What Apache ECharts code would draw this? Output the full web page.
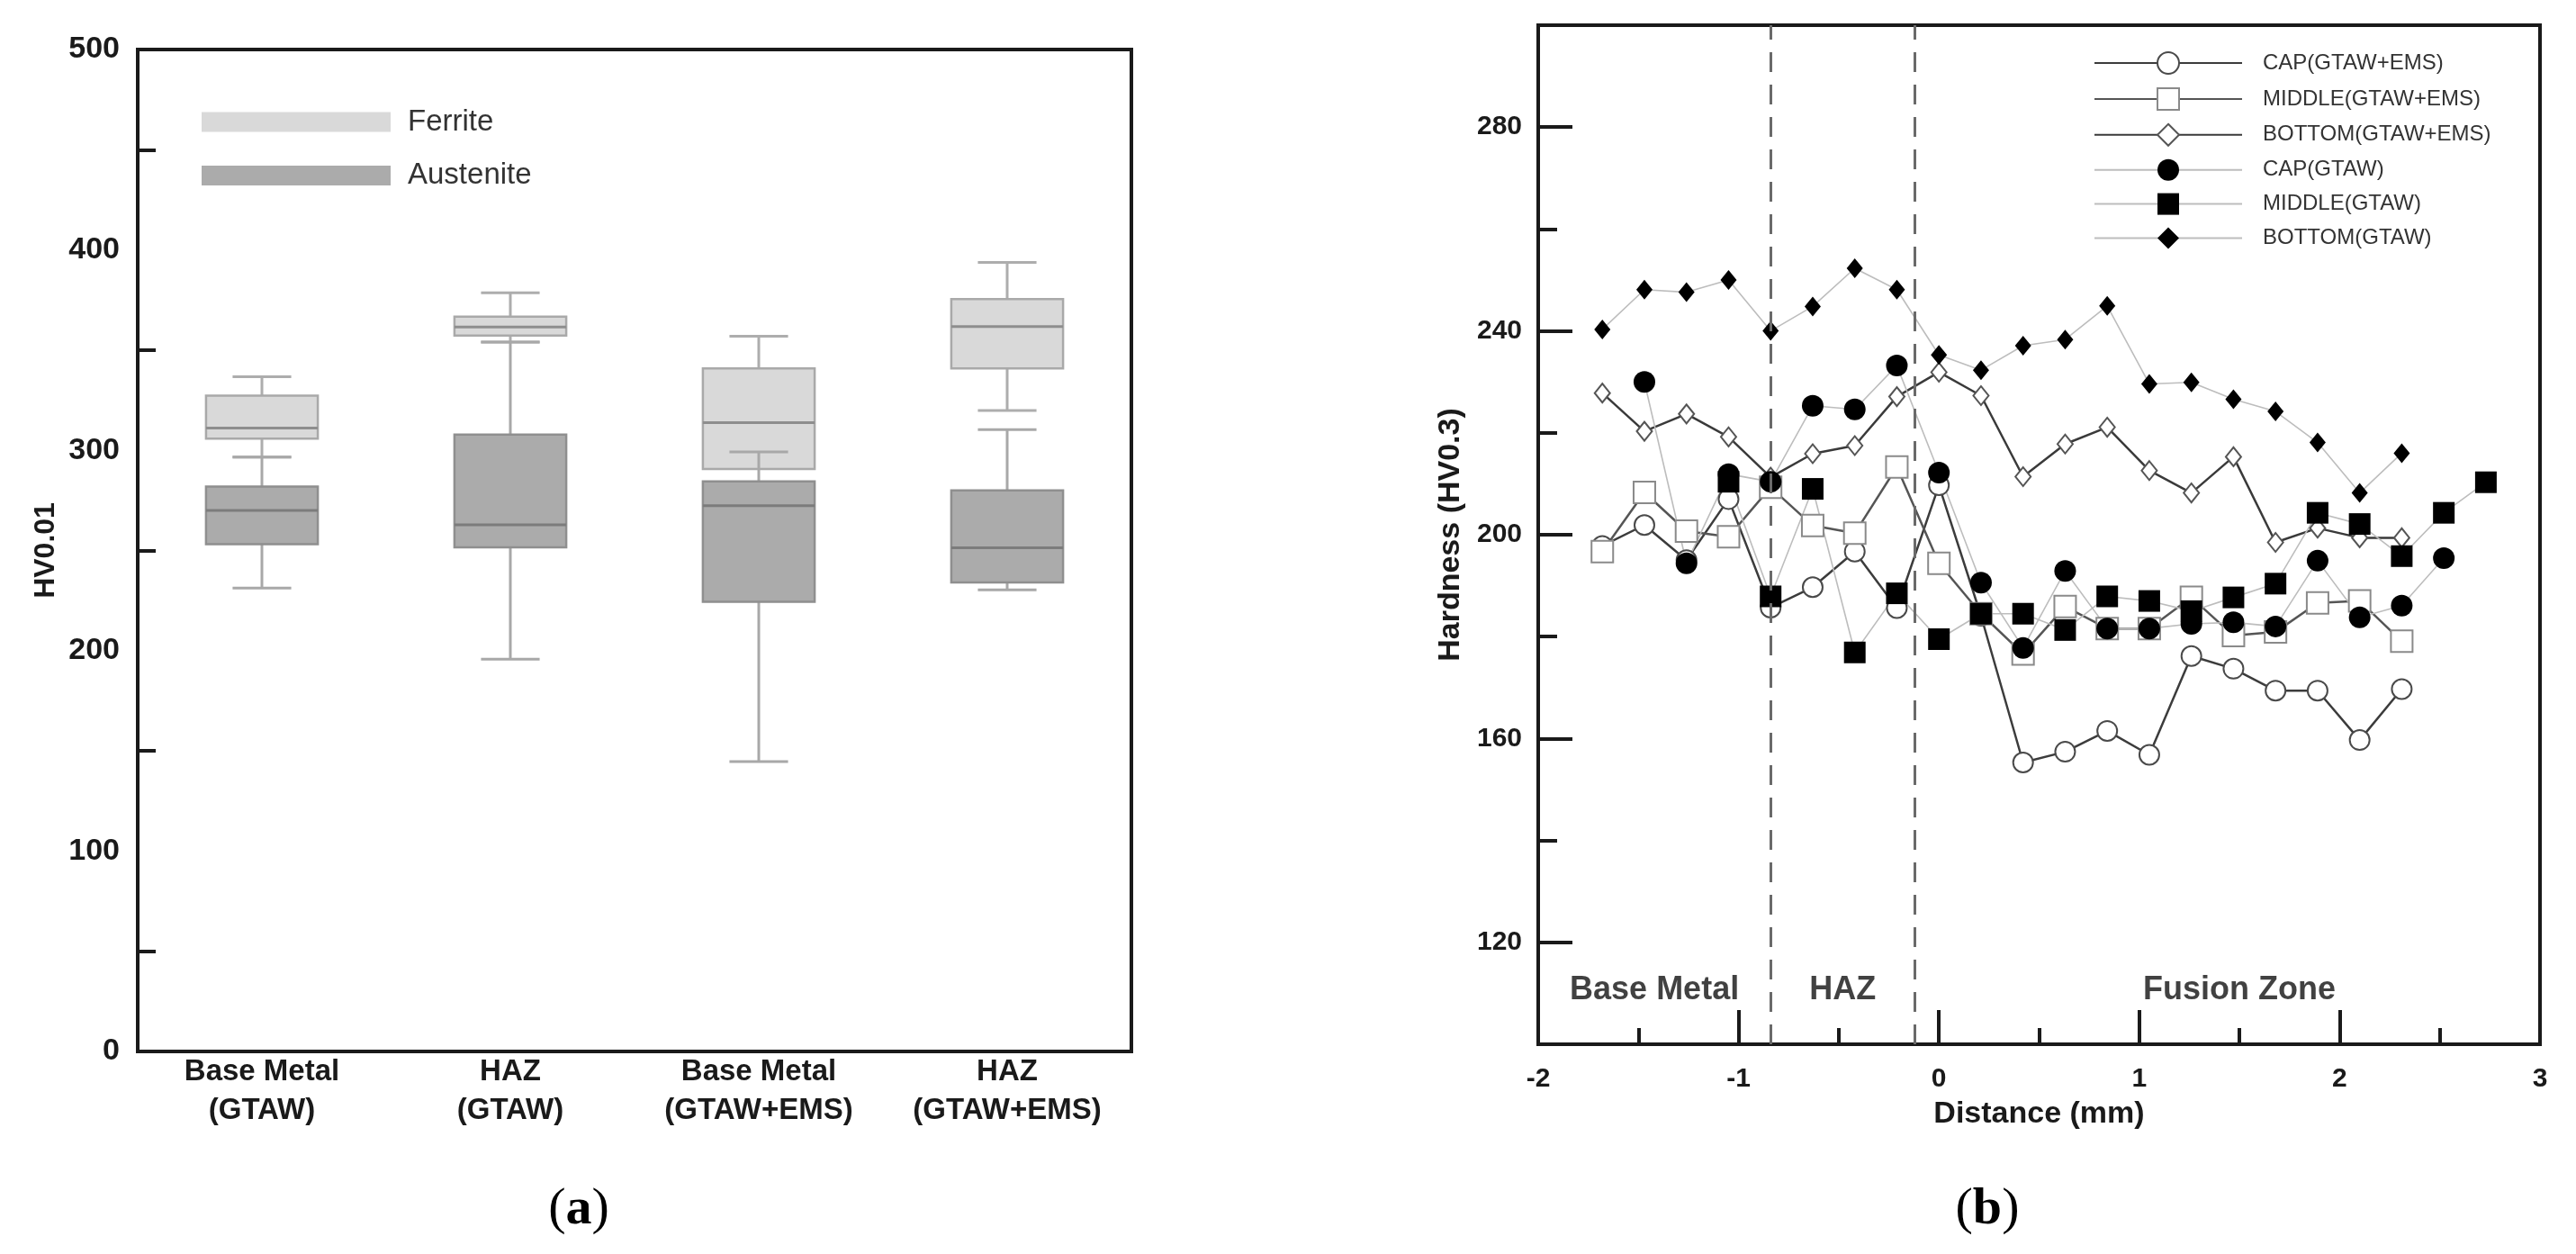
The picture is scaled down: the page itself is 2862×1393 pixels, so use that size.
<!DOCTYPE html>
<html>
<head>
<meta charset="utf-8">
<script src="https://cdn.jsdelivr.net/npm/echarts@6/dist/echarts.min.js"></script>
<style>
  html, body { margin: 0; padding: 0; background: #fff; }
  #main { width: 2862px; height: 1393px; }
</style>
</head>
<body>
<div id="main"></div>
<script>
// (a) box plots, stats are [min, Q1, median, Q3, max]
const categories = ["Base Metal\n(GTAW)", "HAZ\n(GTAW)", "Base Metal\n(GTAW+EMS)", "HAZ\n(GTAW+EMS)"];
const ferriteStats = [
  [296.6, 305.8, 311.1, 327.3, 336.7],
  [354.0, 357.3, 361.5, 366.7, 378.6],
  [290.6, 290.6, 313.8, 340.9, 356.9],
  [319.9, 340.9, 361.8, 375.4, 393.8],
];
const austeniteStats = [
  [231.3, 253.1, 270.0, 281.9, 296.6],
  [195.8, 251.6, 262.8, 307.8, 354.0],
  [144.7, 224.4, 272.4, 284.5, 299.2],
  [230.4, 234.1, 251.4, 280.0, 310.3],
];

// (b) hardness profiles
const distance = [-1.68, -1.47, -1.26, -1.05, -0.84, -0.63, -0.42, -0.21, 0, 0.21, 0.42,
  0.63, 0.84, 1.05, 1.26, 1.47, 1.68, 1.89, 2.1, 2.31, 2.52, 2.73];
const capEms = [197.8, 201.9, 195.0, 207.0, 185.7, 189.7, 196.7, 185.6, 209.7, 184.1, 155.3,
  157.4, 161.5, 156.8, 176.2, 173.7, 169.4, 169.4, 159.7, 169.7, null, null];
const middleEms = [196.7, 208.3, 200.7, 199.6, 209.3, 201.8, 200.3, 213.3, 194.4, 184.5, 176.6,
  185.9, 181.6, 181.6, 187.7, 180.2, 180.9, 186.6, 187.0, 179.1, null, null];
const bottomEms = [227.8, 220.3, 223.7, 219.2, 211.3, 215.9, 217.5, 227.1, 231.9, 227.3, 211.4,
  217.8, 221.1, 212.6, 208.2, 215.3, 198.5, 201.3, 199.4, 199.4, null, null];
const capGtaw = [null, 230.0, 194.4, 211.9, 210.4, 225.3, 224.6, 233.2, 212.2, 190.6, 177.8,
  192.9, 181.6, 181.6, 182.5, 182.8, 182.0, 194.9, 183.8, 186.1, 195.4, null];
const middleGtaw = [null, null, null, 210.4, 187.9, 209.0, 176.9, 188.5, 179.5, 184.5, 184.5,
  181.3, 187.9, 187.0, 185.0, 187.7, 190.4, 204.3, 202.1, 195.8, 204.3, 210.3];
const bottomGtaw = [240.3, 248.1, 247.6, 250.0, 240.0, 244.8, 252.3, 248.1, 235.3, 232.3, 237.1,
  238.3, 244.9, 229.6, 229.9, 226.6, 224.2, 218.1, 208.2, 216.0, null, null];

const zoneNames = ["Base Metal", "HAZ", "Fusion Zone"];
const zoneCenters = [-1.42, -0.48, 1.5];
const zoneLabelY = 110.6;
const zoneBounds = [-0.84, -0.12];
const yLabelValues = [120, 160, 200, 240, 280];
const yMinorValues = [140, 180, 220, 260];

const sans = "'Liberation Sans', Arial, sans-serif";
const serif = "'Liberation Serif', 'Times New Roman', serif";

function toPairs(ys) {
  var out = [];
  for (var i = 0; i < ys.length; i++) {
    if (ys[i] != null) out.push([distance[i], ys[i]]);
  }
  return out;
}

function boxData(stats) {
  return stats.map(function (s, i) { return [i].concat(s); });
}

function makeBox(look) {
  return function (params, api) {
    var idx = api.value(0);
    var band = api.size([1, 0])[0];
    var half = band * 0.225, capHalf = band * 0.118;
    var pt = function (d) { return api.coord([idx, api.value(d)]); };
    var pMin = pt(1), pQ1 = pt(2), pMed = pt(3), pQ3 = pt(4), pMax = pt(5);
    var cx = pMed[0];
    var wStyle = { stroke: look.whisker, lineWidth: 3 };
    var kids = [];
    if (pQ3[1] - pMax[1] > 1) {
      kids.push({ type: "line", shape: { x1: cx, y1: pQ3[1], x2: cx, y2: pMax[1] }, style: wStyle });
      kids.push({ type: "line", shape: { x1: cx - capHalf, y1: pMax[1], x2: cx + capHalf, y2: pMax[1] }, style: wStyle });
    }
    if (pMin[1] - pQ1[1] > 1) {
      kids.push({ type: "line", shape: { x1: cx, y1: pQ1[1], x2: cx, y2: pMin[1] }, style: wStyle });
      kids.push({ type: "line", shape: { x1: cx - capHalf, y1: pMin[1], x2: cx + capHalf, y2: pMin[1] }, style: wStyle });
    }
    kids.push({
      type: "rect",
      shape: { x: cx - half, y: pQ3[1], width: half * 2, height: pQ1[1] - pQ3[1] },
      style: { fill: look.fill, stroke: look.border, lineWidth: 2.5 },
    });
    kids.push({
      type: "line",
      shape: { x1: cx - half, y1: pMed[1], x2: cx + half, y2: pMed[1] },
      style: { stroke: look.median, lineWidth: 3 },
    });
    return { type: "group", children: kids };
  };
}

const ferriteLook = { fill: "#d9d9d9", border: "#a9a9a9", median: "#8e8e8e", whisker: "#adadad" };
const austeniteLook = { fill: "#ababab", border: "#8f8f8f", median: "#7c7c7c", whisker: "#a8a8a8" };

const tickStyle = { color: "#1a1a1a", width: 4 };
const axisLineStyle = { onZero: false, lineStyle: { color: "#1a1a1a", width: 4 } };

function figLabel(letter, x) {
  return {
    type: "text",
    x: x,
    y: 1344,
    style: {
      text: "{p|(}{b|" + letter + "}{p|)}",
      textAlign: "center",
      textVerticalAlign: "middle",
      rich: {
        p: { fontFamily: serif, fontSize: 58, fill: "#000" },
        b: { fontFamily: serif, fontSize: 58, fontWeight: "bold", fill: "#000" },
      },
    },
  };
}

function lineSeries(name, ys, symbol, size, lineColor, lineWidth, symColor) {
  return {
    name: name,
    type: "line",
    xAxisIndex: 1,
    yAxisIndex: 1,
    symbol: symbol,
    symbolSize: size,
    showAllSymbol: true,
    lineStyle: { color: lineColor, width: lineWidth },
    itemStyle: { color: symColor, borderWidth: 1.6 },
    data: toPairs(ys),
  };
}

const myChart = echarts.init(document.getElementById("main"));
var option = {
  animation: false,
  backgroundColor: "#fff",
  grid: [
    { left: 153, top: 55, width: 1104, height: 1113, show: true, borderColor: "#1a1a1a", borderWidth: 4 },
    { left: 1709, top: 28, width: 1113, height: 1132, show: true, borderColor: "#1a1a1a", borderWidth: 4 },
  ],
  legend: [
    {
      data: ["Ferrite", "Austenite"],
      orient: "vertical",
      left: 219,
      top: 114,
      itemWidth: 210,
      itemHeight: 22,
      itemGap: 26.5,
      icon: "rect",
      textStyle: { fontFamily: sans, fontSize: 33, color: "#333", padding: [0, 0, 0, 14] },
    },
    {
      data: ["CAP(GTAW+EMS)", "MIDDLE(GTAW+EMS)", "BOTTOM(GTAW+EMS)", "CAP(GTAW)", "MIDDLE(GTAW)", "BOTTOM(GTAW)"],
      orient: "vertical",
      left: 2321,
      top: 52,
      itemWidth: 164,
      itemHeight: 30,
      itemGap: 13.9,
      textStyle: { fontFamily: sans, fontSize: 24, color: "#333", padding: [0, 0, 0, 18] },
    },
  ],
  xAxis: [
    {
      type: "category",
      gridIndex: 0,
      data: categories,
      boundaryGap: true,
      axisLine: axisLineStyle,
      axisTick: { interval: 0, alignWithLabel: true, inside: true, length: 37, lineStyle: tickStyle },
      axisLabel: { interval: 0, fontFamily: sans, fontWeight: "bold", fontSize: 33, lineHeight: 43, color: "#1a1a1a", margin: 1 },
      splitLine: { show: false },
    },
    {
      type: "value",
      gridIndex: 1,
      min: -2,
      max: 3,
      interval: 1,
      name: "Distance (mm)",
      nameLocation: "middle",
      nameGap: 61,
      nameTextStyle: { fontFamily: sans, fontWeight: "bold", fontSize: 34, color: "#1a1a1a" },
      axisLine: axisLineStyle,
      axisTick: { inside: true, length: 38, lineStyle: tickStyle },
      minorTick: { show: true, splitNumber: 2, length: 18, lineStyle: tickStyle },
      axisLabel: { fontFamily: sans, fontWeight: "bold", fontSize: 30, color: "#1a1a1a", margin: 24 },
      splitLine: { show: false },
    },
  ],
  yAxis: [
    {
      type: "value",
      gridIndex: 0,
      min: 0,
      max: 500,
      interval: 100,
      name: "HV0.01",
      nameLocation: "middle",
      nameGap: 86,
      nameTextStyle: { fontFamily: sans, fontWeight: "bold", fontSize: 32, color: "#1a1a1a" },
      axisLine: axisLineStyle,
      axisTick: { inside: true, length: 39, lineStyle: tickStyle },
      minorTick: { show: true, splitNumber: 2, length: 20, lineStyle: tickStyle },
      axisLabel: { fontFamily: sans, fontWeight: "bold", fontSize: 34, color: "#1a1a1a", margin: 20 },
      splitLine: { show: false },
    },
    {
      type: "value",
      gridIndex: 1,
      position: "left",
      min: 100,
      max: 300,
      name: "Hardness (HV0.3)",
      nameLocation: "middle",
      nameGap: 80,
      nameTextStyle: { fontFamily: sans, fontWeight: "bold", fontSize: 34, color: "#1a1a1a" },
      axisLine: axisLineStyle,
      axisTick: { inside: true, length: 38, lineStyle: tickStyle, customValues: yLabelValues },
      axisLabel: { fontFamily: sans, fontWeight: "bold", fontSize: 30, color: "#1a1a1a", margin: 18, customValues: yLabelValues },
      splitLine: { show: false },
    },
    {
      type: "value",
      gridIndex: 1,
      position: "left",
      min: 100,
      max: 300,
      axisLine: { show: false, onZero: false },
      axisTick: { inside: true, length: 21, lineStyle: tickStyle, customValues: yMinorValues },
      axisLabel: { show: false },
      splitLine: { show: false },
    },
  ],
  series: [
    {
      name: "Ferrite",
      type: "custom",
      xAxisIndex: 0,
      yAxisIndex: 0,
      renderItem: makeBox(ferriteLook),
      encode: { x: 0, y: [1, 2, 3, 4, 5] },
      itemStyle: { color: ferriteLook.fill },
      data: boxData(ferriteStats),
    },
    {
      name: "Austenite",
      type: "custom",
      xAxisIndex: 0,
      yAxisIndex: 0,
      renderItem: makeBox(austeniteLook),
      encode: { x: 0, y: [1, 2, 3, 4, 5] },
      itemStyle: { color: austeniteLook.fill },
      data: boxData(austeniteStats),
    },
    lineSeries("CAP(GTAW+EMS)", capEms, "emptyCircle", 22, "#3c3c3c", 2.5, "#4a4a4a"),
    lineSeries("MIDDLE(GTAW+EMS)", middleEms, "emptyRect", 24, "#555", 2.5, "#8a8a8a"),
    lineSeries("BOTTOM(GTAW+EMS)", bottomEms, "emptyDiamond", [17, 21], "#3a3a3a", 2.5, "#555"),
    lineSeries("CAP(GTAW)", capGtaw, "circle", 24, "#bdbdbd", 1.6, "#000"),
    lineSeries("MIDDLE(GTAW)", middleGtaw, "rect", 24, "#bdbdbd", 1.6, "#000"),
    lineSeries("BOTTOM(GTAW)", bottomGtaw, "diamond", [18, 22], "#bdbdbd", 1.6, "#000"),
    {
      name: "zones",
      type: "scatter",
      xAxisIndex: 1,
      yAxisIndex: 1,
      symbolSize: 0,
      silent: true,
      label: {
        show: true,
        position: "inside",
        formatter: function (p) { return p.value[2]; },
        fontFamily: sans,
        fontWeight: "bold",
        fontSize: 36,
        color: "#111",
        textBorderWidth: 0,
      },
      data: zoneNames.map(function (n, i) { return [zoneCenters[i], zoneLabelY, n]; }),
      markLine: {
        silent: true,
        symbol: ["none", "none"],
        label: { show: false },
        lineStyle: { type: [22, 14], color: "#6a6a6a", width: 3 },
        data: zoneBounds.map(function (b) { return { xAxis: b }; }),
      },
    },
  ],
  graphic: [figLabel("a", 643), figLabel("b", 2208)],
};
myChart.setOption(option);
</script>
</body>
</html>
